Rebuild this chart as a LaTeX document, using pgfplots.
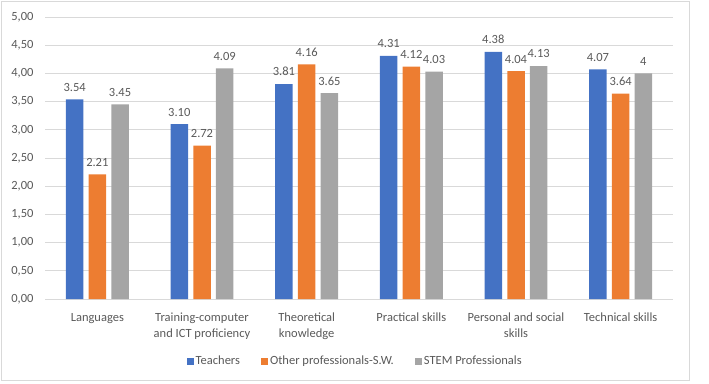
\documentclass[border=0pt]{standalone}
\usepackage{pgfplots}
\pgfplotsset{compat=1.18}
\usepackage{fontspec}
\setmainfont{Carlito}
\definecolor{cBlue}{HTML}{4472C4}
\definecolor{cOrange}{HTML}{ED7D31}
\definecolor{cGray}{HTML}{A5A5A5}
\definecolor{cGrid}{HTML}{D9D9D9}
\definecolor{cText}{HTML}{595959}
\newcommand{\lf}{\fontsize{12.5}{16}\selectfont}
\begin{document}
\begin{tikzpicture}[x=1pt,y=1pt]
\draw[cGrid, line width=0.8pt] (1,3) rectangle (689,382);
\begin{axis}[
  at={(45pt,84pt)}, anchor=south west,
  scale only axis, width=628pt, height=282pt,
  xmin=-0.5, xmax=5.5, ymin=0, ymax=5,
  xtick={0,1,2,3,4,5},
  xticklabels={Languages,{Training-computer\\and ICT proficiency},{Theoretical\\knowledge},Practical skills,{Personal and social\\skills},Technical skills},
  ytick={0,0.5,1,1.5,2,2.5,3,3.5,4,4.5,5},
  ymajorgrids, grid style={cGrid, line width=0.8pt},
  axis line style={draw=none},
  major tick length=0pt,
  yticklabel style={/pgf/number format/fixed, /pgf/number format/fixed zerofill, /pgf/number format/precision=2, /pgf/number format/use comma, /pgf/number format/assume math mode=true, xshift=-8pt},
  ticklabel style={font=\lf, text=cText},
  xticklabel style={align=center, yshift=-10.5pt},
  ybar, bar width=17.5pt,
  nodes near coords, point meta=explicit symbolic,
  nodes near coords style={font=\lf, text=cText, yshift=4.5pt},
  legend style={draw=none, legend columns=3, at={(0.494,-0.22)}, anchor=center,
    font=\lf, text=cText, fill=none,
    /tikz/every even column/.append style={column sep=19pt}},
  clip=false,
]
\addplot[fill=cBlue, draw=none, /pgf/bar shift=-22.7pt,
  legend image code/.code={\fill[cBlue] (0pt,-3.5pt) rectangle (7pt,3.5pt);}]
  coordinates {(0,3.54)[3.54] (1,3.10)[3.10] (2,3.81)[3.81] (3,4.31)[4.31] (4,4.38)[4.38] (5,4.07)[4.07]};
\addplot[fill=cOrange, draw=none, /pgf/bar shift=0pt,
  legend image code/.code={\fill[cOrange] (0pt,-3.5pt) rectangle (7pt,3.5pt);}]
  coordinates {(0,2.21)[2.21] (1,2.72)[2.72] (2,4.16)[4.16] (3,4.12)[4.12] (4,4.04)[4.04] (5,3.64)[3.64]};
\addplot[fill=cGray, draw=none, /pgf/bar shift=22.7pt,
  legend image code/.code={\fill[cGray] (0pt,-3.5pt) rectangle (7pt,3.5pt);}]
  coordinates {(0,3.45)[3.45] (1,4.09)[4.09] (2,3.65)[3.65] (3,4.03)[4.03] (4,4.13)[4.13] (5,4)[4]};
\legend{Teachers,Other professionals-S.W.,STEM Professionals}
\end{axis}
\pgfresetboundingbox
\path[use as bounding box] (0,0) rectangle (709,383);
\end{tikzpicture}
\end{document}
